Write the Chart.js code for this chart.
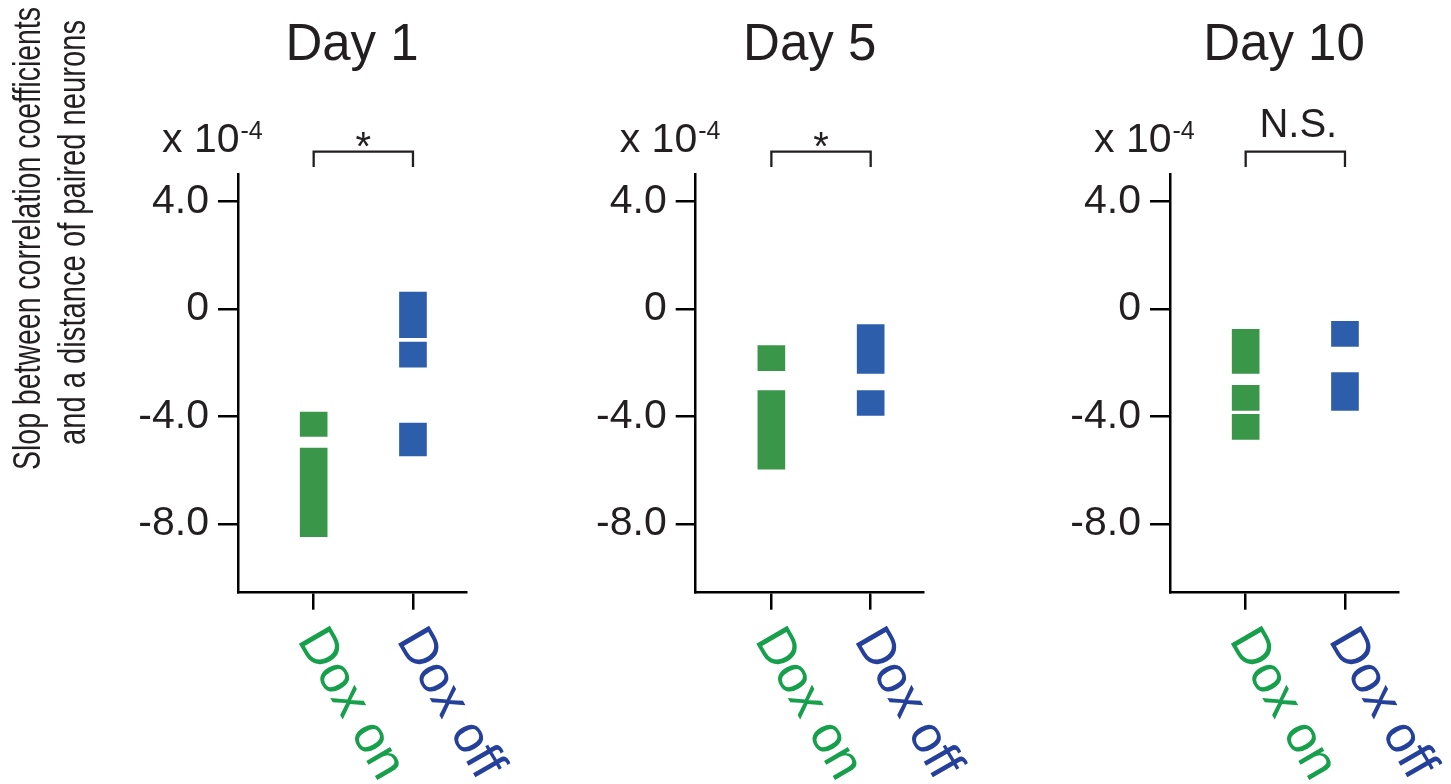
<!DOCTYPE html>
<html>
<head>
<meta charset="utf-8">
<script src="https://cdn.jsdelivr.net/npm/chart.js@4.4.1/dist/chart.umd.min.js"></script>
<style>
  html, body { margin: 0; padding: 0; background: #fff; }
  #wrap { position: relative; width: 1451px; height: 784px; overflow: hidden; }
  #wrap canvas { position: absolute; left: 0; top: 0; }
</style>
</head>
<body>
<div id="wrap">
  <canvas id="c0" width="1451" height="784"></canvas>
  <canvas id="c1" width="1451" height="784"></canvas>
  <canvas id="c2" width="1451" height="784"></canvas>
</div>
<script>
// ---- data (slopes in units of 1e-4) ----
const categories = ['Dox on', 'Dox off'];
const dayTitles = ['Day 1', 'Day 5', 'Day 10'];
const significance = ['*', '*', 'N.S.'];
const yTickValues = [4, 0, -4, -8];
const yTitleLines = ['Slop between correlation coefficients', 'and a distance of paired neurons'];
const scaleNote = ['x 10', '-4'];

// occupied ranges [low, high] for each group
const day1DoxOn  = [[-4.74, -3.83], [-8.47, -5.17]];
const day1DoxOff = [[-1.07, 0.63], [-2.16, -1.23], [-5.46, -4.24]];
const day5DoxOn  = [[-2.29, -1.36], [-5.96, -3.03]];
const day5DoxOff = [[-2.40, -0.58], [-3.96, -3.03]];
const day10DoxOn  = [[-2.40, -0.76], [-3.77, -2.84], [-4.85, -3.92]];
const day10DoxOff = [[-1.39, -0.46], [-3.77, -2.36]];

const panelData = [
  [day1DoxOn, day1DoxOff],
  [day5DoxOn, day5DoxOff],
  [day10DoxOn, day10DoxOff]
];

// ---- styling ----
const INK = '#231f20';
const FONT = '"Liberation Sans", Arial, Helvetica, sans-serif';
const barColors = ['#3a9648', '#2d5eab'];
const labelColors = ['#17a04b', '#24409b'];
const axisLeft = [238, 695.7, 1170];
const AREA_W = 228, AREA_TOP = 174, AREA_BOTTOM = 592.7;
const Y_AXIS_W = 110, X_AXIS_H = 30;

function panelText(i) {
  return {
    id: 'panelText' + i,
    afterDraw(chart) {
      const ctx = chart.ctx;
      const xs = chart.scales.x;
      const area = chart.chartArea;
      ctx.save();
      ctx.fillStyle = INK;
      ctx.strokeStyle = INK;

      // panel title
      ctx.font = '51px ' + FONT;
      ctx.textAlign = 'center';
      ctx.textBaseline = 'alphabetic';
      ctx.fillText(dayTitles[i], (area.left + area.right) / 2, 60);

      // axis multiplier
      ctx.textAlign = 'left';
      ctx.font = '41px ' + FONT;
      const nx = area.left - 76;
      ctx.fillText(scaleNote[0], nx, 152);
      const w = ctx.measureText(scaleNote[0]).width;
      ctx.font = '25px ' + FONT;
      ctx.fillText(scaleNote[1], nx + w + 1, 138.5);

      // comparison bracket
      const x1 = xs.getPixelForValue(1), x2 = xs.getPixelForValue(2);
      ctx.lineWidth = 2.3;
      ctx.beginPath();
      ctx.moveTo(x1, 167);
      ctx.lineTo(x1, 151.7);
      ctx.lineTo(x2, 151.7);
      ctx.lineTo(x2, 167);
      ctx.stroke();

      ctx.textAlign = 'center';
      ctx.font = '40px ' + FONT;
      if (significance[i] === '*') {
        ctx.fillText(significance[i], (x1 + x2) / 2, 160);
      } else {
        ctx.fillText(significance[i], (x1 + x2) / 2 + 3, 136.7);
      }

      // rotated category labels
      categories.forEach((c, k) => {
        const px = xs.getPixelForValue(k + 1);
        ctx.save();
        ctx.translate(px - 17, 640);
        ctx.rotate(Math.PI / 3);
        ctx.font = '52px ' + FONT;
        ctx.fillStyle = labelColors[k];
        ctx.textAlign = 'left';
        ctx.textBaseline = 'alphabetic';
        ctx.fillText(c, 0, 0);
        ctx.restore();
      });

      // shared y-axis title (first panel only)
      if (i === 0) {
        ctx.fillStyle = INK;
        ctx.font = '38px ' + FONT;
        ctx.textAlign = 'left';
        const starts = [[40, 470, 463], [85, 445, 425]];
        yTitleLines.forEach((t, k) => {
          ctx.save();
          ctx.translate(starts[k][0], starts[k][1]);
          ctx.rotate(-Math.PI / 2);
          ctx.fillText(t, 0, 0, starts[k][2]);
          ctx.restore();
        });
      }
      ctx.restore();
    }
  };
}

function makePanel(i) {
  const left = axisLeft[i];
  const [onData, offData] = panelData[i];
  const barOpts = { grouped: false, barThickness: 27, borderWidth: 0, borderSkipped: false };
  new Chart(document.getElementById('c' + i), {
    type: 'bar',
    data: {
      datasets: [
        Object.assign({ label: categories[0], data: onData.map(r => ({ x: 1, y: r })), backgroundColor: barColors[0] }, barOpts),
        Object.assign({ label: categories[1], data: offData.map(r => ({ x: 2, y: r })), backgroundColor: barColors[1] }, barOpts)
      ]
    },
    options: {
      responsive: false,
      animation: false,
      devicePixelRatio: 1,
      events: [],
      layout: {
        padding: {
          left: left - Y_AXIS_W,
          right: 1451 - (left + AREA_W),
          top: AREA_TOP,
          bottom: 784 - AREA_BOTTOM - X_AXIS_H
        }
      },
      plugins: { legend: { display: false }, tooltip: { enabled: false }, title: { display: false } },
      scales: {
        x: {
          type: 'linear',
          offset: false,
          min: 0.238,
          max: 2.534,
          afterBuildTicks: s => { s.ticks = [{ value: 1 }, { value: 2 }]; },
          afterFit: s => { s.height = X_AXIS_H; },
          ticks: { display: false },
          grid: { offset: false, drawOnChartArea: false, drawTicks: true, tickLength: 17, color: '#000', lineWidth: 2.5 },
          border: { display: true, color: '#000', width: 2.5 }
        },
        y: {
          type: 'linear',
          min: -10.55,
          max: 5.02,
          afterBuildTicks: s => { s.ticks = yTickValues.map(v => ({ value: v })); },
          afterFit: s => { s.width = Y_AXIS_W; },
          ticks: {
            color: INK,
            padding: 9,
            font: { family: FONT, size: 41 },
            callback: v => (v === 0 ? '0' : v.toFixed(1))
          },
          grid: { drawOnChartArea: false, drawTicks: true, tickLength: 20, color: '#000', lineWidth: 2.5 },
          border: { display: true, color: '#000', width: 2.5 }
        }
      }
    },
    plugins: [panelText(i)]
  });
}

[0, 1, 2].forEach(makePanel);
</script>
</body>
</html>
